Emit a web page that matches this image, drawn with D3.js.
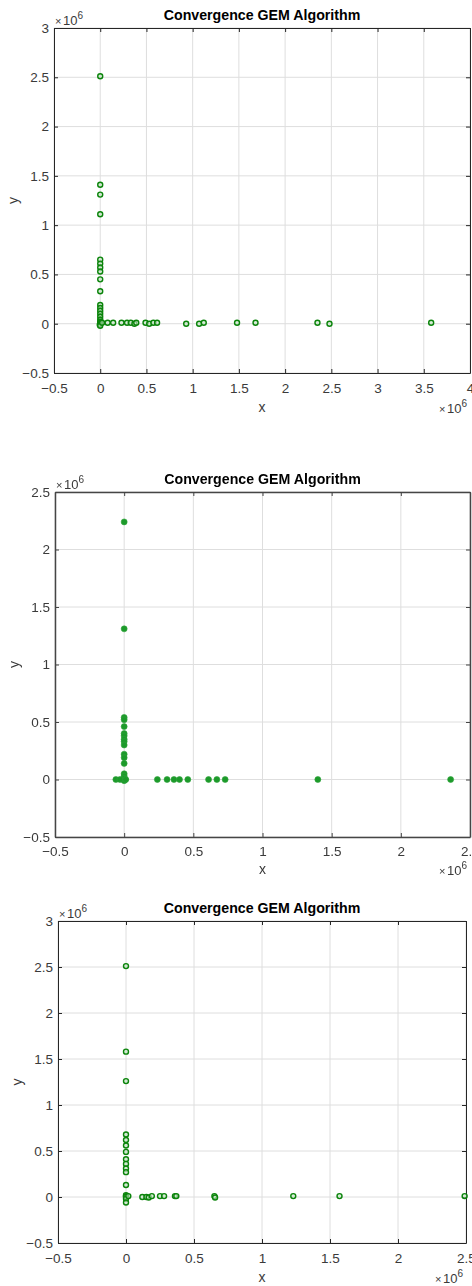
<!DOCTYPE html>
<html>
<head>
<meta charset="utf-8">
<script src="https://cdn.jsdelivr.net/npm/d3@7"></script>
<style>
  body { margin: 0; background: #fff; }
  text { font-family: "Liberation Sans", Arial, sans-serif; }
</style>
</head>
<body>
<svg id="fig" width="472" height="1286"></svg>
<script>
// Data (values in units of 1e6) ----------
// Panel 1
const p1_x = [0, 0, 0, 0, 0, 0, 0, 0, 0, 0, 0, 0, 0, 0, 0, 0, 0, 0.005, 0, -0.005, 0,
  0.02, 0.08, 0.14, 0.23, 0.29, 0.33, 0.37, 0.39, 0.49, 0.53, 0.575, 0.615, 0.93, 1.07, 1.12, 1.48, 1.68, 2.35, 2.48, 3.58];
const p1_y = [2.51, 1.41, 1.31, 1.11, 0.65, 0.61, 0.57, 0.53, 0.45, 0.33, 0.19, 0.16, 0.13, 0.1, 0.07, 0.04, 0.02, 0.01, 0, -0.01, -0.02,
  0.01, 0.01, 0.01, 0.01, 0.01, 0.01, 0, 0.01, 0.01, 0, 0.01, 0.01, 0, 0, 0.01, 0.01, 0.01, 0.01, 0, 0.01];
// Panel 2
const p2_x = [0, 0, 0, 0, 0, 0, 0, 0, 0, 0, 0, 0, 0, 0, 0, 0, 0.01, 0,
  -0.06, -0.03, 0.01, 0.24, 0.31, 0.36, 0.40, 0.46, 0.61, 0.67, 0.73, 1.40, 2.36];
const p2_y = [2.24, 1.31, 0.54, 0.52, 0.46, 0.40, 0.38, 0.35, 0.33, 0.30, 0.22, 0.19, 0.14, 0.05, 0.03, 0.01, 0, -0.01,
  0, 0, 0, 0, 0, 0, 0, 0, 0, 0, 0, 0, 0];
// Panel 3
const p3_x = [0, 0, 0, 0, 0, 0, 0, 0, 0, 0, 0, 0, 0, 0, 0, 0, 0,
  0.017, 0.12, 0.15, 0.167, 0.19, 0.25, 0.28, 0.36, 0.37, 0.65, 0.655, 1.23, 1.57, 2.49];
const p3_y = [2.51, 1.58, 1.26, 0.68, 0.62, 0.56, 0.49, 0.41, 0.36, 0.31, 0.27, 0.13, 0.02, 0.01, 0, -0.02, -0.06,
  0.01, 0, 0, -0.005, 0.01, 0.01, 0.01, 0.01, 0.01, 0.01, -0.005, 0.01, 0.01, 0.01];

const title_text = "Convergence GEM Algorithm";
const x_label = "x";
const y_label = "y";
const x_ticks_1 = [-0.5, 0, 0.5, 1, 1.5, 2, 2.5, 3, 3.5, 4];
const y_ticks_1 = [-0.5, 0, 0.5, 1, 1.5, 2, 2.5, 3];
const x_ticks_2 = [-0.5, 0, 0.5, 1, 1.5, 2, 2.5];
const y_ticks_2 = [-0.5, 0, 0.5, 1, 1.5, 2, 2.5];
const x_ticks_3 = [-0.5, 0, 0.5, 1, 1.5, 2, 2.5];
const y_ticks_3 = [-0.5, 0, 0.5, 1, 1.5, 2, 2.5, 3];

const svg = d3.select("#fig");

//Blur for the middle (lower quality) panel
svg.append("defs").append("filter").attr("id", "soft")
  .append("feGaussianBlur").attr("stdDeviation", 0.45);

//Draw one MATLAB-like scatter panel
function drawPanel(cfg) {
  const g = svg.append("g");
  if (cfg.blur) g.attr("filter", "url(#soft)");

  const x = d3.scaleLinear().domain(cfg.xDomain).range([cfg.left, cfg.right]);
  const y = d3.scaleLinear().domain(cfg.yDomain).range([cfg.bottom, cfg.top]);
  const fmt = d3.format("");

  //Grid
  g.append("g").selectAll("line").data(cfg.xTicks).join("line")
    .attr("x1", d => x(d)).attr("x2", d => x(d))
    .attr("y1", cfg.top).attr("y2", cfg.bottom)
    .attr("stroke", "#dedede").attr("stroke-width", 1);
  g.append("g").selectAll("line").data(cfg.yTicks).join("line")
    .attr("y1", d => y(d)).attr("y2", d => y(d))
    .attr("x1", cfg.left).attr("x2", cfg.right)
    .attr("stroke", "#dedede").attr("stroke-width", 1);

  //Axes with inward ticks
  const tk = 4;
  g.append("g").attr("transform", `translate(0,${cfg.bottom})`)
    .call(d3.axisBottom(x).tickValues(cfg.xTicks).tickFormat(fmt).tickSizeInner(-tk).tickSizeOuter(0).tickPadding(cfg.xPad));
  g.append("g").attr("transform", `translate(0,${cfg.top})`)
    .call(d3.axisTop(x).tickValues(cfg.xTicks).tickFormat("").tickSizeInner(-tk).tickSizeOuter(0));
  g.append("g").attr("transform", `translate(${cfg.left},0)`)
    .call(d3.axisLeft(y).tickValues(cfg.yTicks).tickFormat(fmt).tickSizeInner(-tk).tickSizeOuter(0).tickPadding(5));
  g.append("g").attr("transform", `translate(${cfg.right},0)`)
    .call(d3.axisRight(y).tickValues(cfg.yTicks).tickFormat("").tickSizeInner(-tk).tickSizeOuter(0));

  g.selectAll(".domain").attr("stroke", cfg.frame).attr("stroke-width", cfg.frameW);
  g.selectAll(".tick line").attr("stroke", cfg.frame);
  g.selectAll(".tick text").attr("fill", "#3a3a3a").attr("font-size", 13.5)
    .attr("font-family", "Liberation Sans, Arial, sans-serif");

  //Points
  const idx = d3.range(cfg.xs.length);
  g.append("g").selectAll("circle").data(idx).join("circle")
    .attr("cx", i => x(cfg.xs[i]))
    .attr("cy", i => y(cfg.ys[i]))
    .attr("r", cfg.filled ? 3 : 2.5)
    .attr("fill", cfg.filled ? "#1f9a2c" : "#bfe2bf")
    .attr("fill-opacity", cfg.filled ? 1 : 0.6)
    .attr("stroke", cfg.filled ? "#2aa237" : "#0b840b")
    .attr("stroke-width", cfg.filled ? 0.6 : 1.4);

  //Texts
  const mid = (cfg.left + cfg.right) / 2;
  g.append("text").attr("x", mid).attr("y", cfg.top - 8)
    .attr("text-anchor", "middle").attr("font-weight", "bold")
    .attr("font-size", 14.2).attr("fill", "#000").text(title_text);
  g.append("text").attr("x", mid).attr("y", cfg.bottom + cfg.labelOff)
    .attr("text-anchor", "middle").attr("font-size", 14).attr("fill", "#3a3a3a").text(x_label);
  g.append("text").attr("transform", `translate(${cfg.left - 36},${(cfg.top + cfg.bottom) / 2}) rotate(-90)`)
    .attr("text-anchor", "middle").attr("font-size", 14).attr("fill", "#3a3a3a").text(y_label);

  //Exponent labels
  const e1 = g.append("text").attr("x", cfg.left + 1).attr("y", cfg.top - 3)
    .attr("font-size", 13).attr("fill", "#3a3a3a");
  e1.append("tspan").attr("font-size", 11).text("\u00d7");
  e1.append("tspan").attr("dx", 1.5).text("10");
  e1.append("tspan").attr("dy", -6).attr("font-size", 10).text("6");
  const e2 = g.append("text").attr("x", cfg.right - 3).attr("y", cfg.bottom + cfg.labelOff + 1)
    .attr("text-anchor", "end").attr("font-size", 13).attr("fill", "#3a3a3a");
  e2.append("tspan").attr("font-size", 11).text("\u00d7");
  e2.append("tspan").attr("dx", 1.5).text("10");
  e2.append("tspan").attr("dy", -6).attr("font-size", 10).text("6");
}

drawPanel({
  xs: p1_x, ys: p1_y, xTicks: x_ticks_1, yTicks: y_ticks_1,
  xDomain: [-0.5, 4], yDomain: [-0.5, 3],
  left: 54, right: 470, top: 28, bottom: 373, xPad: 10, labelOff: 39,
  frame: "#262626", frameW: 1, filled: false, blur: false
});
drawPanel({
  xs: p2_x, ys: p2_y, xTicks: x_ticks_2, yTicks: y_ticks_2,
  xDomain: [-0.5, 2.5], yDomain: [-0.5, 2.5],
  left: 55, right: 470, top: 492, bottom: 837, xPad: 9, labelOff: 37,
  frame: "#444", frameW: 1.5, filled: true, blur: true
});
drawPanel({
  xs: p3_x, ys: p3_y, xTicks: x_ticks_3, yTicks: y_ticks_3,
  xDomain: [-0.5, 2.5], yDomain: [-0.5, 3],
  left: 58, right: 466, top: 921, bottom: 1243, xPad: 10, labelOff: 39,
  frame: "#262626", frameW: 1, filled: false, blur: false
});
</script>
</body>
</html>
